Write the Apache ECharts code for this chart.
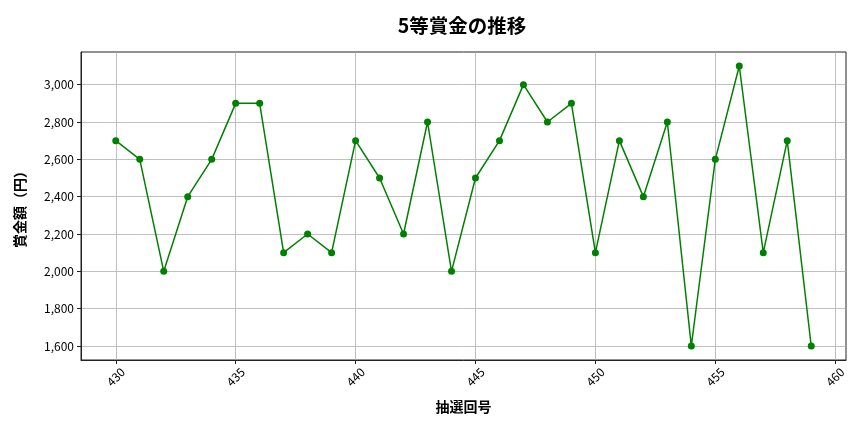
<!DOCTYPE html>
<html>
<head>
<meta charset="utf-8">
<script src="https://cdn.jsdelivr.net/npm/echarts@6/dist/echarts.min.js"></script>
<style>
  html, body { margin: 0; padding: 0; background: #fff; }
  #chart { width: 864px; height: 432px; }
</style>
</head>
<body>
<div id="chart"></div>
<script>
// draw numbers (抽選回号) and 5等 prize values (円)
const draws = [430, 431, 432, 433, 434, 435, 436, 437, 438, 439,
               440, 441, 442, 443, 444, 445, 446, 447, 448, 449,
               450, 451, 452, 453, 454, 455, 456, 457, 458, 459];
const prizes = [2700, 2600, 2000, 2400, 2600, 2900, 2900, 2100, 2200, 2100,
                2700, 2500, 2200, 2800, 2000, 2500, 2700, 3000, 2800, 2900,
                2100, 2700, 2400, 2800, 1600, 2600, 3100, 2100, 2700, 1600];
const xTicks = [430, 435, 440, 445, 450, 455, 460];
const yTicks = [1600, 1800, 2000, 2200, 2400, 2600, 2800, 3000];

const font = '"Noto Sans CJK JP", "Noto Sans", sans-serif';

let chart = echarts.init(document.getElementById('chart'));

let points = draws.map((d, i) => [d, prizes[i]]);

chart.setOption({
    backgroundColor: '#fff',
    animation: false,
    title: {
        text: '5等賞金の推移',
        left: 457,
        top: 11,
        textAlign: 'center',
        textStyle: { fontFamily: font, fontSize: 19.5, fontWeight: 'bold', color: '#000' }
    },
    grid: {
        left: 81, right: 18, top: 52, bottom: 72,
        show: true, borderColor: '#222', borderWidth: 1
    },
    xAxis: {
        type: 'value',
        min: 428.55,
        max: 460.45,
        name: '抽選回号',
        nameLocation: 'middle',
        nameGap: 40,
        nameTextStyle: { fontFamily: font, fontSize: 14, fontWeight: 'bold', color: '#000' },
        axisLine: { show: true, lineStyle: { color: '#222' } },
        axisTick: { show: true, customValues: xTicks, length: 4, lineStyle: { color: '#222' } },
        axisLabel: {
            customValues: xTicks,
            rotate: 45,
            align: 'center',
            verticalAlign: 'middle',
            margin: 17,
            fontFamily: font, fontSize: 12, color: '#000'
        },
        splitLine: { show: true, lineStyle: { color: '#b0b0b0', width: 0.8 } }
    },
    yAxis: {
        type: 'value',
        min: 1525,
        max: 3175,
        name: '賞金額（円）',
        nameLocation: 'middle',
        nameGap: 54,
        nameTextStyle: { fontFamily: font, fontSize: 14, fontWeight: 'bold', color: '#000' },
        axisLine: { show: true, lineStyle: { color: '#222' } },
        axisTick: { show: true, customValues: yTicks, length: 4, lineStyle: { color: '#222' } },
        axisLabel: {
            customValues: yTicks,
            margin: 7,
            fontFamily: font, fontSize: 12, color: '#000',
            formatter: (v) => v.toLocaleString('en-US')
        },
        splitLine: { show: true, lineStyle: { color: '#b0b0b0', width: 0.8 } }
    },
    series: [{
        type: 'line',
        data: points,
        symbol: 'circle',
        symbolSize: 7,
        lineStyle: { color: '#008000', width: 1.5 },
        itemStyle: { color: '#008000' }
    }]
});
</script>
</body>
</html>
